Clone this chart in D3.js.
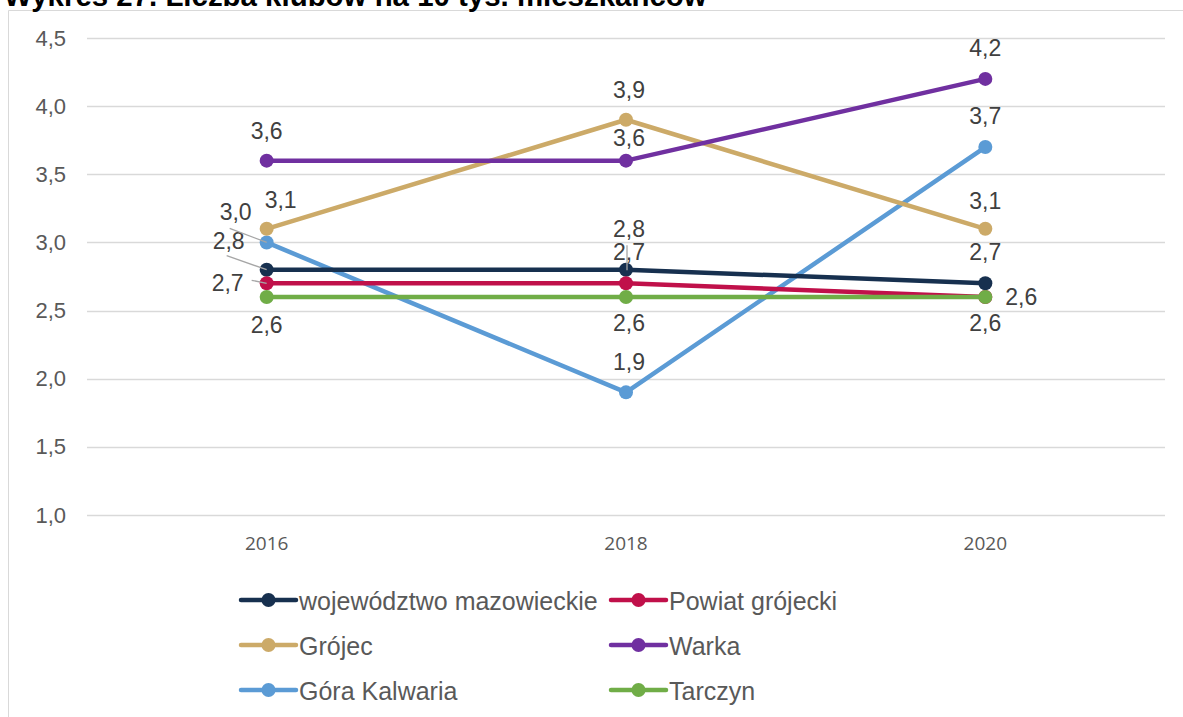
<!DOCTYPE html>
<html>
<head>
<meta charset="utf-8">
<script src="https://cdn.jsdelivr.net/npm/d3@7"></script>
<style>
  html, body { margin: 0; padding: 0; background: #fff; }
  svg { display: block; }
</style>
</head>
<body>
<svg id="chart" width="1183" height="717"></svg>
<script>
// Number of clubs per 10 thousand inhabitants
const years = ["2016", "2018", "2020"];
const seriesNames = ["województwo mazowieckie", "Powiat grójecki", "Grójec", "Warka", "Góra Kalwaria", "Tarczyn"];
const seriesColors = ["#17304F", "#C0104A", "#CCAA68", "#7030A0", "#5B9BD5", "#70AD47"];
const mazowieckie = [2.8, 2.8, 2.7];
const powiatGrojecki = [2.7, 2.7, 2.6];
const grojec = [3.1, 3.9, 3.1];
const warka = [3.6, 3.6, 4.2];
const goraKalwaria = [3.0, 1.9, 3.7];
const tarczyn = [2.6, 2.6, 2.6];
const yTicks = [1.0, 1.5, 2.0, 2.5, 3.0, 3.5, 4.0, 4.5];

const seriesValues = [mazowieckie, powiatGrojecki, grojec, warka, goraKalwaria, tarczyn];

// Label placement per series and year: [dx, dy] from the point to the label centre,
// plus optional leader line endpoints relative to the point.
const labelPlacement = [
  [{d: [-38, -29], lead: [[-40, -14], [0, 0]]}, {d: [3, -41]}, {d: [0, -31]}],
  [{d: [-39, 0], lead: [[-15, -3], [0, 0]]}, {d: [3, -31], lead: [[1, -38], [1, -13]]}, {d: [36, 0]}],
  [{d: [14, -29]}, {d: [3, -30]}, {d: [0, -28]}],
  [{d: [0, -30]}, {d: [3, -23]}, {d: [0, -31]}],
  [{d: [-31, -30], lead: [[-37, -14], [0, 0]]}, {d: [3, -30]}, {d: [0, -31]}],
  [{d: [0, 28]}, {d: [3, 26]}, {d: [0, 26]}]
];

const fmt = v => d3.format(".1f")(v).replace(".", ",");

const svg = d3.select("#chart");

// Chart frame
svg.append("path")
  .attr("d", "M8.5,717 L8.5,10.5 L1183,10.5")
  .attr("fill", "none")
  .attr("stroke", "#D9D9D9")
  .attr("stroke-width", 1);

// Title (runs off the top edge)
const title = svg.append("text")
  .attr("x", 4)
  .attr("y", 6)
  .attr("font-family", "Arial, 'Liberation Sans', sans-serif")
  .attr("font-weight", "bold")
  .attr("font-size", 20)
  .attr("fill", "#000")
  .text("Wykres 27. Liczba klubów na 10 tys. mieszkańców");
const w20 = title.node().getComputedTextLength();
title.attr("font-size", 20 * 703 / w20);

const plot = {left: 87, right: 1165, top: 38, bottom: 515};

const x = d3.scaleBand().domain(years).range([plot.left, plot.right]);
const y = d3.scaleLinear().domain([1.0, 4.5]).range([plot.bottom, plot.top]);
const cx = yr => x(yr) + x.bandwidth() / 2;

// Gridlines
svg.append("g")
  .selectAll("line")
  .data(yTicks)
  .join("line")
  .attr("x1", plot.left).attr("x2", plot.right)
  .attr("y1", d => Math.round(y(d)) + 0.5).attr("y2", d => Math.round(y(d)) + 0.5)
  .attr("stroke", "#D9D9D9")
  .attr("stroke-width", 1.3);

// Y axis labels
const yAxis = svg.append("g")
  .attr("transform", `translate(${plot.left - 21},0)`)
  .call(d3.axisLeft(y).tickValues(yTicks).tickFormat(fmt).tickSize(0).tickPadding(0));
yAxis.select(".domain").remove();
yAxis.selectAll("text")
  .attr("font-family", "Arial, 'Liberation Sans', sans-serif")
  .attr("font-size", 22)
  .attr("fill", "#595959");

// X axis labels
const xAxis = svg.append("g")
  .attr("transform", `translate(0,${plot.bottom + 21})`)
  .call(d3.axisBottom(x).tickSize(0).tickPadding(0));
xAxis.select(".domain").remove();
xAxis.selectAll("text")
  .attr("font-family", "'Open Sans', 'DejaVu Sans', sans-serif")
  .attr("font-size", 19)
  .attr("fill", "#595959");

// Series lines and markers
const line = d3.line().x((d, i) => cx(years[i])).y(d => y(d));

const drawOrder = [4, 2, 3, 0, 1, 5];
drawOrder.forEach(si => {
  const vals = seriesValues[si];
  const g = svg.append("g");
  g.append("path")
    .datum(vals)
    .attr("d", line)
    .attr("fill", "none")
    .attr("stroke", seriesColors[si])
    .attr("stroke-width", 4.5)
    .attr("stroke-linejoin", "round");
  g.selectAll("circle")
    .data(vals)
    .join("circle")
    .attr("cx", (d, i) => cx(years[i]))
    .attr("cy", d => y(d))
    .attr("r", 7)
    .attr("fill", seriesColors[si]);
});

// Leader lines and data labels
const labels = svg.append("g");
seriesValues.forEach((vals, si) => {
  vals.forEach((v, i) => {
    const px = cx(years[i]), py = y(v);
    const p = labelPlacement[si][i];
    if (p.lead) {
      labels.append("line")
        .attr("x1", px + p.lead[0][0]).attr("y1", py + p.lead[0][1])
        .attr("x2", px + p.lead[1][0]).attr("y2", py + p.lead[1][1])
        .attr("stroke", "#A6A6A6")
        .attr("stroke-width", 1.3);
    }
    labels.append("text")
      .attr("x", px + p.d[0])
      .attr("y", py + p.d[1])
      .attr("text-anchor", "middle")
      .attr("dominant-baseline", "central")
      .attr("font-family", "Arial, 'Liberation Sans', sans-serif")
      .attr("font-size", 23)
      .attr("fill", "#404040")
      .text(fmt(v));
  });
});

// Legend
const legendCols = [241, 611];
const legendRows = [600, 645, 690];
const legend = svg.append("g");
seriesNames.forEach((name, si) => {
  const lx = legendCols[si % 2], ly = legendRows[Math.floor(si / 2)];
  const g = legend.append("g").attr("transform", `translate(${lx},${ly})`);
  g.append("line")
    .attr("x1", 0).attr("x2", 55)
    .attr("y1", 0).attr("y2", 0)
    .attr("stroke", seriesColors[si])
    .attr("stroke-width", 4.5)
    .attr("stroke-linecap", "round");
  g.append("circle").attr("cx", 27.5).attr("cy", 0).attr("r", 7).attr("fill", seriesColors[si]);
  g.append("text")
    .attr("x", 58)
    .attr("y", 1)
    .attr("dominant-baseline", "central")
    .attr("font-family", "Arial, 'Liberation Sans', sans-serif")
    .attr("font-size", 25)
    .attr("fill", "#595959")
    .text(name);
});
</script>
</body>
</html>
